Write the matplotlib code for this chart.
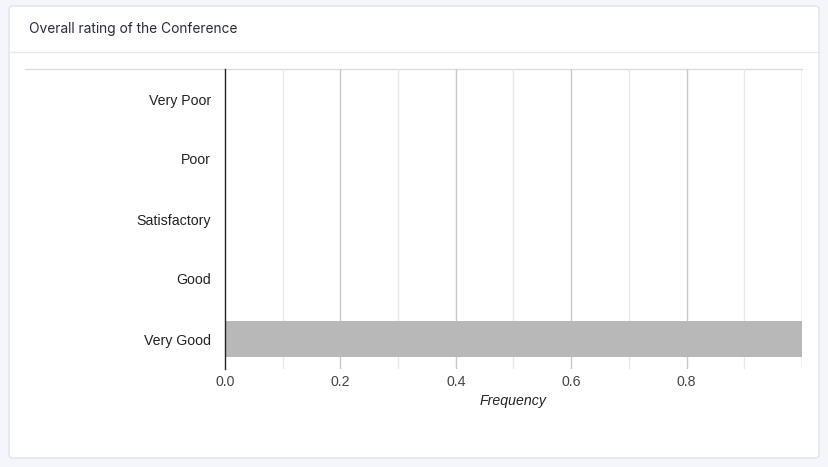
import numpy as np
import matplotlib
matplotlib.use('Agg')
import matplotlib.pyplot as plt
from matplotlib.patches import FancyBboxPatch
from matplotlib.lines import Line2D

plt.rcParams['font.family'] = ['Liberation Sans', 'DejaVu Sans']

categories = ['Very Poor', 'Poor', 'Satisfactory', 'Good', 'Very Good']
frequency = [0.0, 0.0, 0.0, 0.0, 1.0]
major_ticks = [0.0, 0.2, 0.4, 0.6, 0.8, 1.0]
tick_labels = ['0.0', '0.2', '0.4', '0.6', '0.8', '']
minor_ticks = [0.1, 0.3, 0.5, 0.7, 0.9]

W, H = 829, 467
fig = plt.figure(figsize=(W / 100, H / 100), dpi=100)
fig.patch.set_facecolor('#f4f6fb')

# card behind everything
card = FancyBboxPatch((9 / W, 1 - 458 / H), 810 / W, 452 / H,
                      boxstyle='round,pad=0,rounding_size=0.006',
                      transform=fig.transFigure, facecolor='white',
                      edgecolor='#dfe2ea', linewidth=1, zorder=-5)
fig.patches.append(card)
fig.lines.append(Line2D([9 / W, 819 / W], [1 - 52 / H] * 2, transform=fig.transFigure,
                        color='#e6e8ee', lw=1, zorder=-4))
fig.text(29 / W, 1 - 29.5 / H, 'Overall rating of the Conference', fontsize=9.9,
         family=['Inter', 'DejaVu Sans'], color='#2b2b40', va='center', ha='left')
# top rule over the plot
fig.lines.append(Line2D([25 / W, 802 / W], [1 - 69 / H] * 2, transform=fig.transFigure,
                        color='#dcdcdc', lw=1, zorder=-4))

ax = fig.add_axes([225 / W, 1 - 369 / H, 577 / W, 300 / H])
ax.set_facecolor('none')
y = np.arange(len(categories))
ax.barh(y, frequency, height=0.6, color='#b8b8b8', zorder=2)
ax.set_ylim(len(categories) - 0.5, -0.5)
ax.set_xlim(0, 1)
ax.set_yticks(y)
ax.set_yticklabels(categories)
ax.set_xticks(major_ticks)
ax.set_xticklabels(tick_labels)
ax.set_xticks(minor_ticks, minor=True)

for v in major_ticks[1:]:
    ax.axvline(v, color='#c8c8c8', lw=1, zorder=1)
for v in minor_ticks:
    ax.axvline(v, color='#e8e8e8', lw=1, zorder=1)

for s in ['top', 'right', 'bottom']:
    ax.spines[s].set_visible(False)
ax.spines['left'].set_color('#222222')
ax.spines['left'].set_linewidth(1)
ax.spines['left'].set_zorder(3)

ax.tick_params(axis='y', length=0, pad=10, labelsize=10.2, labelcolor='#222222')
ax.tick_params(axis='x', which='both', length=0, pad=4, labelsize=10.2, labelcolor='#444444')
ax.set_xlabel('Frequency', style='italic', fontsize=10.2, color='#222222', labelpad=4)

fig.savefig('out.png', dpi=100, facecolor=fig.get_facecolor())
